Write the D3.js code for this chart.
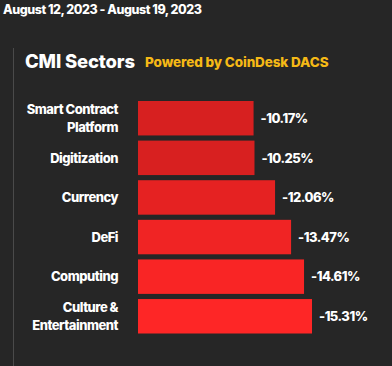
<!DOCTYPE html>
<html>
<head>
<meta charset="UTF-8">
<title>CMI Sectors</title>
<script src="https://cdn.jsdelivr.net/npm/d3@7"></script>
<style>
  body { margin: 0; background: #262626; }
  svg { display: block; font-family: Inter, "Liberation Sans", sans-serif; font-weight: 800; }
  .lbl { fill: #fff; font-size: 13px; letter-spacing: -0.5px; }
</style>
</head>
<body>
<svg></svg>
<script>
// sectors, top to bottom (line breaks as in the chart)
const sectors = ["Smart Contract\nPlatform", "Digitization", "Currency", "DeFi", "Computing", "Culture &\nEntertainment"];
const changes = [-10.17, -10.25, -12.06, -13.47, -14.61, -15.31];
const dateRange = "August 12, 2023 - August 19, 2023";
const title = "CMI Sectors";
const subtitle = "Powered by CoinDesk DACS";

const W = 392, H = 366;
const svg = d3.select("svg").attr("width", W).attr("height", H);

svg.append("rect").attr("width", W).attr("height", H).attr("fill", "#262626");

svg.append("text")
  .attr("x", 3).attr("y", 14)
  .attr("fill", "#fff")
  .style("font-size", "12.5px").style("letter-spacing", "-0.45px")
  .text(dateRange);

// panel edge
svg.append("line")
  .attr("x1", 13.5).attr("x2", 13.5).attr("y1", 48).attr("y2", H)
  .attr("stroke", "#4a4a4a").attr("stroke-width", 1);

svg.append("text")
  .attr("x", 25).attr("y", 68)
  .attr("fill", "#fff")
  .style("font-size", "18.5px").style("letter-spacing", "-0.15px")
  .text(title);

svg.append("text")
  .attr("x", 145).attr("y", 67)
  .attr("fill", "#f5b916")
  .style("font-size", "13.5px").style("letter-spacing", "-0.12px")
  .text(subtitle);

const x = d3.scaleLinear().domain([0, 15.31]).range([138, 312]);
const y = d3.scaleBand().domain(sectors).range([101, 333.5]).paddingInner(0.13);
const color = d3.scaleLinear().domain([10.17, 15.31]).range(["#d72020", "#fe2626"]);

const rows = svg.selectAll(".row")
  .data(sectors.map((s, i) => ({ s: s, v: changes[i] })))
  .enter().append("g").attr("class", "row");

rows.append("rect")
  .attr("x", x(0))
  .attr("y", d => y(d.s))
  .attr("width", d => x(Math.abs(d.v)) - x(0))
  .attr("height", y.bandwidth())
  .attr("fill", d => color(Math.abs(d.v)));

rows.append("text")
  .attr("class", "lbl")
  .attr("x", d => x(Math.abs(d.v)) + 7)
  .attr("y", d => y(d.s) + y.bandwidth() / 2)
  .attr("dy", "0.36em")
  .text(d => d.v.toFixed(2) + "%");

rows.each(function(d) {
  const lines = d.s.split("\n");
  const lh = 18.5;
  const cy = y(d.s) + y.bandwidth() / 2;
  const t = d3.select(this).append("text")
    .attr("class", "lbl")
    .attr("text-anchor", "end");
  lines.forEach((ln, i) => {
    t.append("tspan")
      .attr("x", 118)
      .attr("y", cy + (i - (lines.length - 1) / 2) * lh)
      .attr("dy", "0.36em")
      .text(ln);
  });
});
</script>
</body>
</html>
